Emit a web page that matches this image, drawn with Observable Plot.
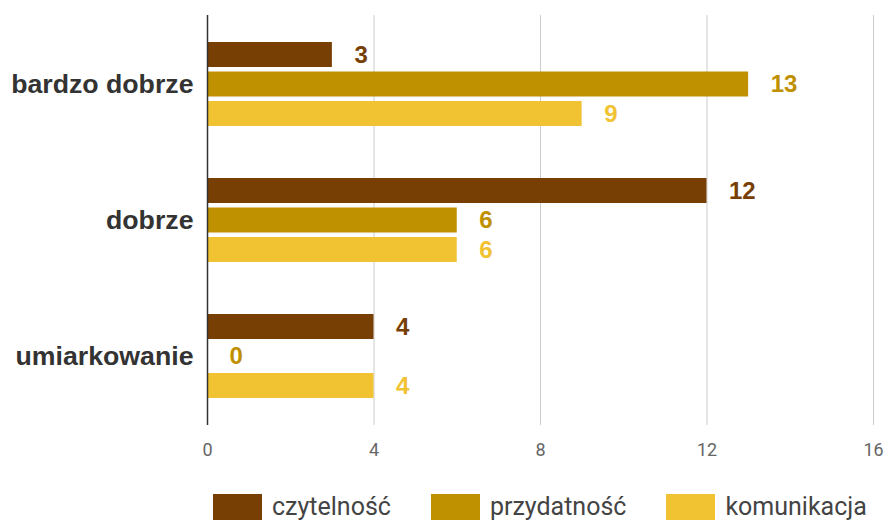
<!DOCTYPE html>
<html><head><meta charset="utf-8">
<script src="https://cdn.jsdelivr.net/npm/d3@7"></script>
<script src="https://cdn.jsdelivr.net/npm/@observablehq/plot@0.6"></script>
<style>
body{margin:0;background:#fff;}
#legend{display:flex;align-items:center;margin-left:213px;margin-top:22px;font-family:Roboto,sans-serif;font-size:25px;color:#444;}
#legend .item{display:flex;align-items:center;margin-right:40px;}
#legend .sw{width:49px;height:26px;margin-right:10px;}
</style>
</head><body>
<div id="chart"></div>
<div id="legend"></div>
<script>
const categories = ["bardzo dobrze", "dobrze", "umiarkowanie"];
const seriesNames = ["czytelność", "przydatność", "komunikacja"];
const czytelnosc = [3, 12, 4];
const przydatnosc = [13, 6, 0];
const komunikacja = [9, 6, 4];
const colors = ["#783f04", "#bf9000", "#f1c232"];
const xTicks = [0, 4, 8, 12, 16];
const gridTicks = [4, 8, 12, 16];

const seriesValues = [czytelnosc, przydatnosc, komunikacja];
const rows = seriesNames.map((s, i) => categories.map((c, j) => ({category: c, series: s, value: seriesValues[i][j]})));

const step = 29.5;
const marks = [
  Plot.ruleX(gridTicks, {stroke: "#cccccc", strokeWidth: 1}),
];
rows.forEach((r, i) => {
  marks.push(Plot.barX(r, {x: "value", y: "category", fill: colors[i], insetTop: i * step, insetBottom: (2 - i) * step}));
});
marks.push(Plot.ruleX([0], {stroke: "#333", strokeWidth: 1.5}));
rows.forEach((r, i) => {
  marks.push(Plot.text(r, {x: "value", y: "category", text: d => String(d.value), dx: 22, dy: (i - 1) * step,
    textAnchor: "start", fill: colors[i], fontWeight: "bold", fontSize: 24, fontFamily: "Liberation Sans, Arial, sans-serif"}));
});
marks.push(Plot.axisX({ticks: xTicks, tickSize: 0, tickPadding: 18, fontSize: 18, color: "#666", label: null, fontFamily: "Roboto, sans-serif"}));
marks.push(Plot.axisY({tickSize: 0, tickPadding: 14, fontSize: 26.7, fontWeight: "bold", color: "#333", label: null, fontFamily: "Liberation Sans, Arial, sans-serif"}));

const chart = Plot.plot({
  width: 890,
  height: 470,
  marginLeft: 207,
  marginRight: 17,
  marginTop: 15,
  marginBottom: 45,
  x: {domain: [0, 16]},
  y: {domain: categories, paddingInner: 0.38, paddingOuter: 0.19},
  style: {background: "#fff", fontFamily: "Roboto, sans-serif", overflow: "visible"},
  marks
});
document.getElementById("chart").appendChild(chart);

const legend = document.getElementById("legend");
seriesNames.forEach((s, i) => {
  const it = document.createElement("div");
  it.className = "item";
  const sw = document.createElement("span");
  sw.className = "sw";
  sw.style.background = colors[i];
  const t = document.createElement("span");
  t.textContent = s;
  it.appendChild(sw); it.appendChild(t);
  legend.appendChild(it);
});
</script>
</body></html>
